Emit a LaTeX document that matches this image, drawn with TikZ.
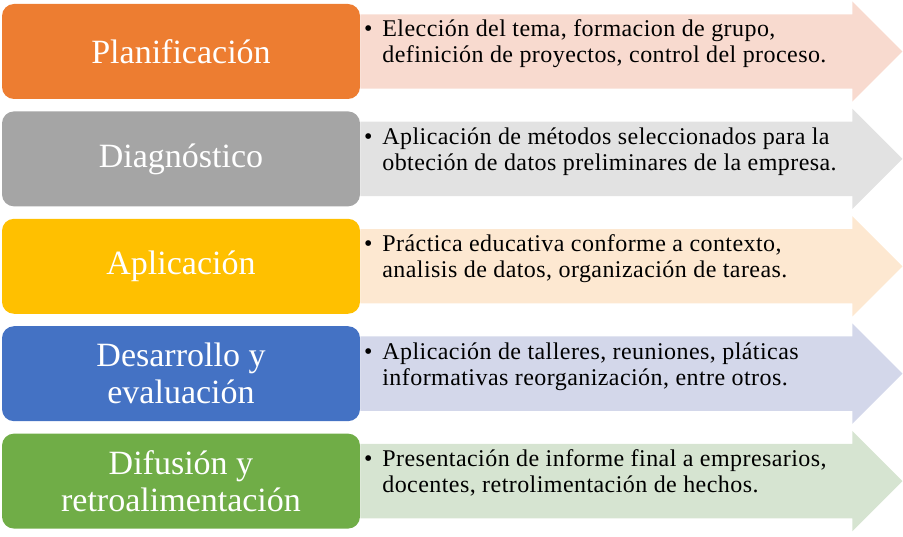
\documentclass[tikz,border=0pt]{standalone}
\usepackage{fontspec}
\setmainfont{Liberation Serif}
\usetikzlibrary{positioning,shapes.arrows}

\definecolor{cOrange}{HTML}{ED7D31}
\definecolor{cOrangeL}{HTML}{F8DACF}
\definecolor{cGray}{HTML}{A5A5A5}
\definecolor{cGrayL}{HTML}{E2E2E2}
\definecolor{cYellow}{HTML}{FFC000}
\definecolor{cYellowL}{HTML}{FDE8D1}
\definecolor{cBlue}{HTML}{4472C4}
\definecolor{cBlueL}{HTML}{D3D7EA}
\definecolor{cGreen}{HTML}{70AD47}
\definecolor{cGreenL}{HTML}{D6E4D1}

\tikzset{
  stage/.style={rounded corners=12pt, minimum width=358pt, minimum height=95pt, inner sep=0pt,
    align=center, text=white, font=\fontsize{34}{37}\selectfont},
  band/.style={single arrow, single arrow head extend=13pt, minimum height=542pt,
    text height=37pt, text depth=37pt, minimum width=100pt, inner sep=0pt, anchor=west},
  desc/.style={anchor=north west, inner sep=0pt, align=left,
    font=\fontsize{24}{26}\selectfont\addfontfeature{LetterSpace=1.8}}
}
\newcommand{\bul}{\strut\llap{\textbullet\hspace{10pt}}}

\begin{document}
\begin{tikzpicture}
  \useasboundingbox (0,0) rectangle (903pt,-537pt);

  \node[stage, fill=cOrange] (plan) at (181pt,-51.5pt) {Planificación};
  \node[stage, fill=cGray, below = 12pt of plan] (diag) {Diagnóstico};
  \node[stage, fill=cYellow, below = 12pt of diag] (apl) {Aplicación};
  \node[stage, fill=cBlue, below = 12pt of apl] (des) {Desarrollo y\\evaluación};
  \node[stage, fill=cGreen, below = 12pt of des] (dif) {Difusión y\\retroalimentación};

  % bands behind the texts
  \node[band, fill=cOrangeL] (planA) at (plan.east) {};
  \node[band, fill=cGrayL] (diagA) at (diag.east) {};
  \node[band, fill=cYellowL] (aplA) at (apl.east) {};
  \node[band, fill=cBlueL] (desA) at (des.east) {};
  \node[band, fill=cGreenL] (difA) at (dif.east) {};

  \node[desc] (planT) at ([xshift=22pt, yshift=33pt]plan.east)
    {\bul Elección del tema, formacion de grupo,\\definición de proyectos, control del proceso.};
  \node[desc] (diagT) at ([xshift=22pt, yshift=33pt]diag.east)
    {\bul Aplicación de métodos seleccionados para la\\obteción de datos preliminares de la empresa.};
  \node[desc] (aplT) at ([xshift=22pt, yshift=33pt]apl.east)
    {\bul Práctica educativa conforme a contexto,\\analisis de datos, organización de tareas.};
  \node[desc] (desT) at ([xshift=22pt, yshift=33pt]des.east)
    {\bul Aplicación de talleres, reuniones, pláticas\\informativas reorganización, entre otros.};
  \node[desc] (difT) at ([xshift=22pt, yshift=33pt]dif.east)
    {\bul Presentación de informe final a empresarios,\\docentes, retrolimentación de hechos.};
\end{tikzpicture}
\end{document}
